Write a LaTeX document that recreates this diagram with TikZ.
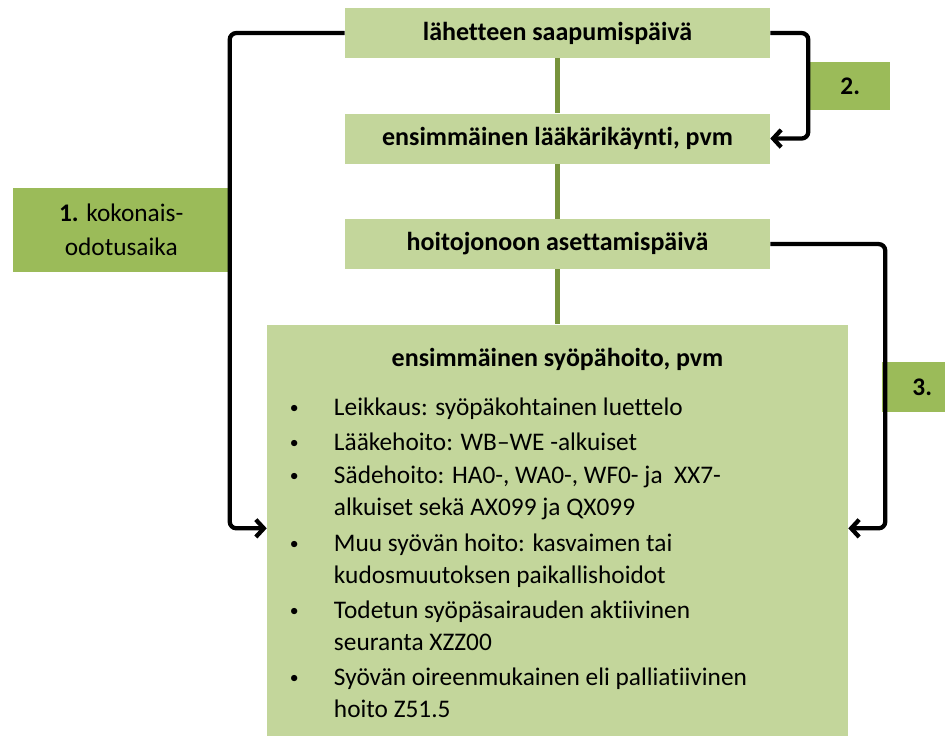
\documentclass[tikz,border=0pt]{standalone}
\usepackage{fontspec}
\setmainfont{Carlito}[Ligatures={NoCommon}]
\usetikzlibrary{positioning,calc,arrows.meta}
\definecolor{vaalea}{HTML}{C3D69B}
\definecolor{tumma}{HTML}{9BBB59}
\definecolor{oliivi}{HTML}{77933C}
\newcommand{\pallo}{\raisebox{0.15ex}{\scalebox{0.7}{\textbullet}}}

\begin{document}
\begin{tikzpicture}[
  node distance=41.25pt,
  vaihe/.style={fill=vaalea, inner sep=0pt, minimum width=318.75pt, minimum height=37.5pt,
    font=\fontsize{19.5}{23}\selectfont\bfseries},
  hoitolaatikko/.style={fill=vaalea, inner sep=0pt, minimum width=435.75pt, minimum height=320pt},
  luku/.style={fill=tumma, inner sep=0pt, align=center, font=\fontsize{19}{25.5}\selectfont},
  liitos/.style={draw=oliivi, line width=4pt},
  kulku/.style={draw=black, line width=3.2pt, rounded corners=5pt,
    -{Straight Barb[length=6pt,width=13pt]}}
]
  \useasboundingbox (-418.125pt,24.75pt) rectangle (290.625pt,-526.5pt);

  %Define nodes
  \node[vaihe] (lahete) {lähetteen saapumispäivä};
  \node[vaihe, below=of lahete] (kaynti) {ensimmäinen lääkärikäynti, pvm};
  \node[vaihe, below=of kaynti] (jono) {hoitojonoon asettamispäivä};
  \node[hoitolaatikko, below=of jono] (hoito) {};
  \node[font=\fontsize{19.5}{23}\selectfont\bfseries, below=26.25pt of hoito.north, anchor=center] (otsikko)
    {ensimmäinen syöpähoito, pvm};
  \node[anchor=north west, inner sep=0pt, font=\fontsize{19}{24}\selectfont]
    (lista) at ($(hoito.north west)+(17.25pt,-51pt)$) {%
    \begin{tabular}{@{}p{33pt}@{}l@{}}
      \pallo & Leikkaus: syöpäkohtainen luettelo\\[2.5pt]
      \pallo & Lääkehoito: WB–WE -alkuiset\\[1pt]
      \pallo & Sädehoito: HA0-, WA0-, WF0- ja~ XX7-\\
             & alkuiset sekä AX099 ja QX099\\[2.5pt]
      \pallo & Muu syövän hoito: kasvaimen tai\\
             & kudosmuutoksen paikallishoidot\\[2.5pt]
      \pallo & Todetun syöpäsairauden aktiivinen\\
             & seuranta XZZ00\\[2.5pt]
      \pallo & Syövän oireenmukainen eli palliatiivinen\\
             & hoito Z51.5
    \end{tabular}};

  % Labels of the waiting times
  \node[luku, anchor=east, minimum width=162.75pt, minimum height=63pt] (nro1)
    at (-245.625pt,-147.75pt) {\textbf{1.} kokonais-\\odotusaika};
  \node[luku, anchor=west, minimum width=60pt, minimum height=36pt, font=\fontsize{19}{23}\selectfont\bfseries] (nro2)
    at (189.375pt,-39.75pt) {2.};
  \node[luku, anchor=west, minimum width=60pt, minimum height=37.5pt, font=\fontsize{19}{23}\selectfont\bfseries] (nro3)
    at (243.375pt,-265.5pt) {3.};

  \coordinate (vasentulo) at ($(hoito.north west)+(0,-153pt)$);
  \coordinate (oikeatulo) at ($(hoito.north east)+(0,-153pt)$);

  % Connect the nodes
  \draw[liitos] (lahete) -- (kaynti);
  \draw[liitos] (kaynti) -- (jono);
  \draw[liitos] (jono) -- (hoito);

  \draw[kulku] (lahete.west) -- ++(-86.25pt,0) |- (vasentulo);
  \draw[kulku] (lahete.east) -- ++(28.5pt,0) |- (kaynti.east);
  \draw[kulku] (jono.east) -- ++(86.25pt,0) |- (oikeatulo);

\end{tikzpicture}
\end{document}
